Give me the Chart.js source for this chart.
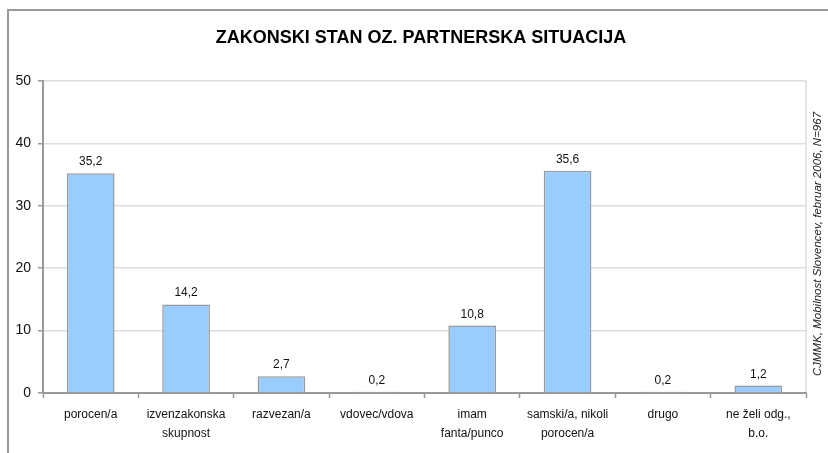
<!DOCTYPE html>
<html>
<head>
    <title>Zakonski stan oz. partnerska situacija</title>
    <script src="https://cdn.jsdelivr.net/npm/chart.js"></script>
    <style>
        body { margin: 0; background: #fff; }
        #wrap { width: 828px; height: 453px; position: relative; }
    </style>
</head>
<body>
    <div id="wrap">
        <canvas id="bar-chart"></canvas>
    </div>

    <script>
        // Data
        const chartTitle = 'ZAKONSKI STAN OZ. PARTNERSKA SITUACIJA';
        const sourceNote = 'CJMMK, Mobilnost Slovencev, februar 2006, N=967';
        const categories = [
            ['porocen/a'],
            ['izvenzakonska', 'skupnost'],
            ['razvezan/a'],
            ['vdovec/vdova'],
            ['imam', 'fanta/punco'],
            ['samski/a, nikoli', 'porocen/a'],
            ['drugo'],
            ['ne želi odg.,', 'b.o.']
        ];
        const values = [35.2, 14.2, 2.7, 0.2, 10.8, 35.6, 0.2, 1.2];
        const yTicks = [0, 10, 20, 30, 40, 50];

        const FONT = '"Liberation Sans", Arial, sans-serif';

        // Outer frame, title, right border of the plot area and the source note
        const framePlugin = {
            id: 'frame',
            beforeDraw(chart) {
                const ctx = chart.ctx;
                const area = chart.chartArea;
                ctx.save();
                ctx.fillStyle = '#999';
                ctx.fillRect(7, 9, chart.width - 7, 2);
                ctx.fillRect(7, 9, 2, chart.height - 9);
                ctx.strokeStyle = '#ddd';
                ctx.lineWidth = 1.5;
                ctx.beginPath();
                ctx.moveTo(area.right, area.top);
                ctx.lineTo(area.right, area.bottom);
                ctx.stroke();

                ctx.fillStyle = '#000';
                ctx.font = 'bold 18px ' + FONT;
                ctx.textAlign = 'center';
                ctx.textBaseline = 'middle';
                ctx.fillText(chartTitle, 421, 38);

                ctx.translate(chart.width - 10, 244);
                ctx.rotate(-Math.PI / 2);
                ctx.fillStyle = '#222';
                ctx.font = 'italic 11.5px ' + FONT;
                ctx.fillText(sourceNote, 0, 0);
                ctx.restore();
            }
        };

        // Value labels above the bars
        const valueLabels = {
            id: 'valueLabels',
            afterDatasetsDraw(chart) {
                const ctx = chart.ctx;
                const meta = chart.getDatasetMeta(0);
                ctx.save();
                ctx.fillStyle = '#111';
                ctx.font = '12px ' + FONT;
                ctx.textAlign = 'center';
                ctx.textBaseline = 'alphabetic';
                meta.data.forEach((bar, i) => {
                    const txt = values[i].toFixed(1).replace('.', ',');
                    ctx.fillText(txt, bar.x, bar.y - 8);
                });
                ctx.restore();
            }
        };

        new Chart(document.getElementById('bar-chart'), {
            type: 'bar',
            data: {
                labels: categories,
                datasets: [{
                    data: values,
                    backgroundColor: '#99ccff',
                    borderColor: '#999',
                    borderWidth: 1.5,
                    categoryPercentage: 1,
                    barPercentage: 0.5
                }]
            },
            options: {
                responsive: true,
                maintainAspectRatio: false,
                animation: false,
                layout: { padding: { top: 81, right: 22, bottom: 0, left: 0 } },
                plugins: {
                    legend: { display: false },
                    tooltip: { enabled: false },
                    title: { display: false }
                },
                scales: {
                    x: {
                        grid: {
                            drawOnChartArea: false,
                            offset: true,
                            tickLength: 5,
                            tickColor: '#999',
                            tickWidth: 1.5
                        },
                        border: { color: '#999', width: 2 },
                        ticks: {
                            color: '#111',
                            font: { family: FONT, size: 12, lineHeight: 1.6 },
                            padding: 7,
                            maxRotation: 0,
                            autoSkip: false
                        },
                        afterFit(scale) { scale.height = 60; }
                    },
                    y: {
                        min: 0,
                        max: 50,
                        afterBuildTicks(scale) {
                            scale.ticks = yTicks.map(v => ({ value: v }));
                        },
                        grid: {
                            color: '#ddd',
                            lineWidth: 1.5,
                            tickLength: 5,
                            tickColor: '#999'
                        },
                        border: { color: '#999', width: 2 },
                        ticks: {
                            color: '#111',
                            font: { family: FONT, size: 14 },
                            padding: 7
                        },
                        afterFit(scale) { scale.width = 43; }
                    }
                }
            },
            plugins: [framePlugin, valueLabels]
        });
    </script>
</body>
</html>
